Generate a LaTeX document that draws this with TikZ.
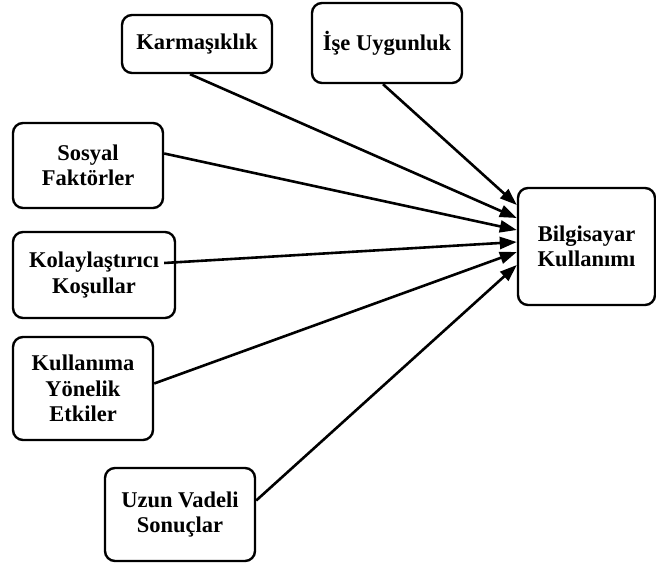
\documentclass[tikz,border=0pt]{standalone}
\usepackage{fontspec}
\setmainfont{Liberation Serif}
\usetikzlibrary{arrows.meta}
\begin{document}
\begin{tikzpicture}[x=1pt,y=-1pt,
  box/.style={draw,line width=2.4pt,rounded corners=10pt,inner sep=0pt,align=center,
    font=\fontsize{22.5}{25.5}\selectfont\bfseries},
  link/.style={line width=2.6pt,-{Triangle[length=17pt,width=12pt]}}]
\useasboundingbox (0,0) rectangle (656,564);
\node[box,minimum width=150pt,minimum height=58pt] (karma) at (197,44) {Karmaşıklık};
\node[box,minimum width=150pt,minimum height=80pt] (ise) at (387,43) {İşe Uygunluk};
\node[box,minimum width=150pt,minimum height=85pt] (sosyal) at (88,165.5) {Sosyal\\Faktörler};
\node[box,minimum width=162pt,minimum height=86pt] (kolay) at (94,275) {Kolaylaştırıcı\\Koşullar};
\node[box,minimum width=140pt,minimum height=103pt] (kullan) at (83,388.5) {Kullanıma\\Yönelik\\Etkiler};
\node[box,minimum width=150pt,minimum height=93pt] (uzun) at (180,514.5) {Uzun Vadeli\\Sonuçlar};
\node[box,minimum width=137pt,minimum height=117pt] (bilg) at (586.5,246.5) {Bilgisayar\\Kullanımı};
\draw[link] ([xshift=-4pt]ise.south) -- ([yshift=41.5pt]bilg.west);
\draw[link] ([xshift=-7pt]karma.south) -- ([yshift=28.5pt]bilg.west);
\draw[link] ([yshift=12pt]sosyal.east) -- ([yshift=16.5pt]bilg.west);
\draw[link] ([xshift=-12pt,yshift=12pt]kolay.east) -- ([yshift=4.5pt]bilg.west);
\draw[link] ([yshift=5pt]kullan.east) -- ([yshift=-5.5pt]bilg.west);
\draw[link] ([yshift=14pt]uzun.east) -- ([yshift=-18.5pt]bilg.west);
\end{tikzpicture}
\end{document}
